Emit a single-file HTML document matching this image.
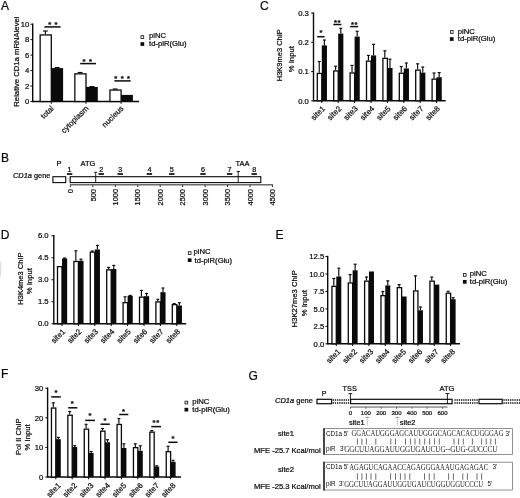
<!DOCTYPE html>
<html lang="en"><head><meta charset="utf-8"><title>Figure</title>
<style>
html,body{margin:0;padding:0;background:#fff;}
body{width:520px;height:498px;overflow:hidden;}
svg{display:block;filter:blur(0.35px);font-family:"Liberation Sans",Arial,sans-serif;}
svg text{stroke:#0a0a0a;stroke-width:0.22px;}
</style></head><body>
<svg width="520" height="498" viewBox="0 0 520 498">
<rect x="0" y="0" width="520" height="498" fill="#ffffff"/>
<text x="0.90" y="9.70" font-size="12.0" text-anchor="start" fill="#0a0a0a">A</text>
<text x="0.90" y="161.80" font-size="12.0" text-anchor="start" fill="#0a0a0a">B</text>
<text x="260.00" y="10.10" font-size="12.0" text-anchor="start" fill="#0a0a0a">C</text>
<text x="0.80" y="238.60" font-size="12.0" text-anchor="start" fill="#0a0a0a">D</text>
<text x="275.40" y="238.80" font-size="12.0" text-anchor="start" fill="#0a0a0a">E</text>
<text x="0.90" y="378.30" font-size="12.0" text-anchor="start" fill="#0a0a0a">F</text>
<text x="248.40" y="380.20" font-size="12.0" text-anchor="start" fill="#0a0a0a">G</text>
<line x1="32.70" y1="23.50" x2="32.70" y2="102.20" stroke="#0a0a0a" stroke-width="1.4"/>
<line x1="30.40" y1="101.50" x2="32.70" y2="101.50" stroke="#0a0a0a" stroke-width="1.0"/>
<text x="29.30" y="104.20" font-size="7.7" text-anchor="end" fill="#0a0a0a">0</text>
<line x1="30.40" y1="86.04" x2="32.70" y2="86.04" stroke="#0a0a0a" stroke-width="1.0"/>
<text x="29.30" y="88.74" font-size="7.7" text-anchor="end" fill="#0a0a0a">2</text>
<line x1="30.40" y1="70.58" x2="32.70" y2="70.58" stroke="#0a0a0a" stroke-width="1.0"/>
<text x="29.30" y="73.28" font-size="7.7" text-anchor="end" fill="#0a0a0a">4</text>
<line x1="30.40" y1="55.12" x2="32.70" y2="55.12" stroke="#0a0a0a" stroke-width="1.0"/>
<text x="29.30" y="57.82" font-size="7.7" text-anchor="end" fill="#0a0a0a">6</text>
<line x1="30.40" y1="39.66" x2="32.70" y2="39.66" stroke="#0a0a0a" stroke-width="1.0"/>
<text x="29.30" y="42.36" font-size="7.7" text-anchor="end" fill="#0a0a0a">8</text>
<line x1="30.40" y1="24.20" x2="32.70" y2="24.20" stroke="#0a0a0a" stroke-width="1.0"/>
<text x="29.30" y="26.90" font-size="7.7" text-anchor="end" fill="#0a0a0a">10</text>
<line x1="32.70" y1="101.50" x2="139.20" y2="101.50" stroke="#0a0a0a" stroke-width="1.4"/>
<line x1="51.30" y1="101.50" x2="51.30" y2="103.80" stroke="#0a0a0a" stroke-width="1.0"/>
<line x1="86.00" y1="101.50" x2="86.00" y2="103.80" stroke="#0a0a0a" stroke-width="1.0"/>
<line x1="121.10" y1="101.50" x2="121.10" y2="103.80" stroke="#0a0a0a" stroke-width="1.0"/>
<line x1="45.40" y1="31.00" x2="45.40" y2="34.30" stroke="#0a0a0a" stroke-width="1.15"/>
<line x1="43.00" y1="31.00" x2="47.80" y2="31.00" stroke="#0a0a0a" stroke-width="1.15"/>
<line x1="57.20" y1="67.60" x2="57.20" y2="68.10" stroke="#0a0a0a" stroke-width="1.15"/>
<line x1="54.80" y1="67.60" x2="59.60" y2="67.60" stroke="#0a0a0a" stroke-width="1.15"/>
<rect x="40.15" y="34.95" width="11.15" height="66.55" fill="#fff" stroke="#0a0a0a" stroke-width="1.3"/>
<rect x="51.30" y="68.10" width="11.80" height="33.40" fill="#0a0a0a"/>
<line x1="80.10" y1="72.50" x2="80.10" y2="73.20" stroke="#0a0a0a" stroke-width="1.15"/>
<line x1="77.70" y1="72.50" x2="82.50" y2="72.50" stroke="#0a0a0a" stroke-width="1.15"/>
<line x1="91.90" y1="86.60" x2="91.90" y2="86.90" stroke="#0a0a0a" stroke-width="1.15"/>
<line x1="89.50" y1="86.60" x2="94.30" y2="86.60" stroke="#0a0a0a" stroke-width="1.15"/>
<rect x="74.85" y="73.85" width="11.15" height="27.65" fill="#fff" stroke="#0a0a0a" stroke-width="1.3"/>
<rect x="86.00" y="86.90" width="11.80" height="14.60" fill="#0a0a0a"/>
<line x1="115.20" y1="89.00" x2="115.20" y2="89.40" stroke="#0a0a0a" stroke-width="1.15"/>
<line x1="112.80" y1="89.00" x2="117.60" y2="89.00" stroke="#0a0a0a" stroke-width="1.15"/>
<rect x="109.95" y="90.05" width="11.15" height="11.45" fill="#fff" stroke="#0a0a0a" stroke-width="1.3"/>
<rect x="121.10" y="94.90" width="11.80" height="6.60" fill="#0a0a0a"/>
<text x="54.30" y="108.90" font-size="7.8" text-anchor="end" fill="#0a0a0a" transform="rotate(-45 54.30 108.90)">total</text>
<text x="89.00" y="108.90" font-size="7.8" text-anchor="end" fill="#0a0a0a" transform="rotate(-45 89.00 108.90)">cytoplasm</text>
<text x="124.10" y="108.90" font-size="7.8" text-anchor="end" fill="#0a0a0a" transform="rotate(-45 124.10 108.90)">nucleus</text>
<text x="19.00" y="61.60" font-size="7.7" text-anchor="middle" fill="#0a0a0a" transform="rotate(-90 19.00 61.60)">Relative CD1a mRNA<tspan dx="-1.7"> level</tspan></text>
<line x1="44.40" y1="26.90" x2="60.60" y2="26.90" stroke="#0a0a0a" stroke-width="1.5"/>
<text x="49.70" y="26.55" font-size="7.6" text-anchor="middle" fill="#0a0a0a" font-weight="bold">*</text>
<text x="56.10" y="26.55" font-size="7.6" text-anchor="middle" fill="#0a0a0a" font-weight="bold">*</text>
<line x1="80.20" y1="63.60" x2="96.00" y2="63.60" stroke="#0a0a0a" stroke-width="1.5"/>
<text x="84.10" y="63.95" font-size="7.6" text-anchor="middle" fill="#0a0a0a" font-weight="bold">*</text>
<text x="90.60" y="63.95" font-size="7.6" text-anchor="middle" fill="#0a0a0a" font-weight="bold">*</text>
<line x1="114.40" y1="80.90" x2="130.60" y2="80.90" stroke="#0a0a0a" stroke-width="1.5"/>
<text x="115.80" y="81.35" font-size="7.6" text-anchor="middle" fill="#0a0a0a" font-weight="bold">*</text>
<text x="122.20" y="81.35" font-size="7.6" text-anchor="middle" fill="#0a0a0a" font-weight="bold">*</text>
<text x="128.60" y="81.35" font-size="7.6" text-anchor="middle" fill="#0a0a0a" font-weight="bold">*</text>
<rect x="141.00" y="35.70" width="2.70" height="2.70" fill="#fff" stroke="#0a0a0a" stroke-width="0.8"/>
<rect x="140.50" y="42.20" width="3.70" height="3.70" fill="#0a0a0a"/>
<text x="149.00" y="38.40" font-size="7.7" text-anchor="start" fill="#0a0a0a">piNC</text>
<text x="149.00" y="46.10" font-size="7.7" text-anchor="start" fill="#0a0a0a">td-piR(Glu)</text>
<line x1="313.50" y1="12.38" x2="313.50" y2="101.50" stroke="#0a0a0a" stroke-width="1.4"/>
<line x1="311.20" y1="100.80" x2="313.50" y2="100.80" stroke="#0a0a0a" stroke-width="1.0"/>
<text x="308.90" y="103.50" font-size="7.7" text-anchor="end" fill="#0a0a0a">0.0</text>
<line x1="311.20" y1="71.56" x2="313.50" y2="71.56" stroke="#0a0a0a" stroke-width="1.0"/>
<text x="308.90" y="74.26" font-size="7.7" text-anchor="end" fill="#0a0a0a">0.1</text>
<line x1="311.20" y1="42.32" x2="313.50" y2="42.32" stroke="#0a0a0a" stroke-width="1.0"/>
<text x="308.90" y="45.02" font-size="7.7" text-anchor="end" fill="#0a0a0a">0.2</text>
<line x1="311.20" y1="13.08" x2="313.50" y2="13.08" stroke="#0a0a0a" stroke-width="1.0"/>
<text x="308.90" y="15.78" font-size="7.7" text-anchor="end" fill="#0a0a0a">0.3</text>
<line x1="313.50" y1="100.80" x2="445.70" y2="100.80" stroke="#0a0a0a" stroke-width="1.4"/>
<line x1="321.80" y1="100.80" x2="321.80" y2="103.10" stroke="#0a0a0a" stroke-width="1.0"/>
<line x1="338.20" y1="100.80" x2="338.20" y2="103.10" stroke="#0a0a0a" stroke-width="1.0"/>
<line x1="354.60" y1="100.80" x2="354.60" y2="103.10" stroke="#0a0a0a" stroke-width="1.0"/>
<line x1="371.00" y1="100.80" x2="371.00" y2="103.10" stroke="#0a0a0a" stroke-width="1.0"/>
<line x1="387.40" y1="100.80" x2="387.40" y2="103.10" stroke="#0a0a0a" stroke-width="1.0"/>
<line x1="403.80" y1="100.80" x2="403.80" y2="103.10" stroke="#0a0a0a" stroke-width="1.0"/>
<line x1="420.20" y1="100.80" x2="420.20" y2="103.10" stroke="#0a0a0a" stroke-width="1.0"/>
<line x1="436.60" y1="100.80" x2="436.60" y2="103.10" stroke="#0a0a0a" stroke-width="1.0"/>
<line x1="319.23" y1="61.50" x2="319.23" y2="72.80" stroke="#0a0a0a" stroke-width="1.15"/>
<line x1="317.73" y1="61.50" x2="320.73" y2="61.50" stroke="#0a0a0a" stroke-width="1.15"/>
<line x1="324.38" y1="40.00" x2="324.38" y2="45.40" stroke="#0a0a0a" stroke-width="1.15"/>
<line x1="322.88" y1="40.00" x2="325.88" y2="40.00" stroke="#0a0a0a" stroke-width="1.15"/>
<rect x="317.30" y="73.45" width="4.50" height="27.35" fill="#fff" stroke="#0a0a0a" stroke-width="1.3"/>
<rect x="321.80" y="45.40" width="5.15" height="55.40" fill="#0a0a0a"/>
<line x1="335.62" y1="66.20" x2="335.62" y2="70.30" stroke="#0a0a0a" stroke-width="1.15"/>
<line x1="334.12" y1="66.20" x2="337.12" y2="66.20" stroke="#0a0a0a" stroke-width="1.15"/>
<line x1="340.77" y1="28.30" x2="340.77" y2="33.60" stroke="#0a0a0a" stroke-width="1.15"/>
<line x1="339.27" y1="28.30" x2="342.27" y2="28.30" stroke="#0a0a0a" stroke-width="1.15"/>
<rect x="333.70" y="70.95" width="4.50" height="29.85" fill="#fff" stroke="#0a0a0a" stroke-width="1.3"/>
<rect x="338.20" y="33.60" width="5.15" height="67.20" fill="#0a0a0a"/>
<line x1="352.03" y1="65.40" x2="352.03" y2="72.30" stroke="#0a0a0a" stroke-width="1.15"/>
<line x1="350.53" y1="65.40" x2="353.53" y2="65.40" stroke="#0a0a0a" stroke-width="1.15"/>
<line x1="357.18" y1="31.30" x2="357.18" y2="36.60" stroke="#0a0a0a" stroke-width="1.15"/>
<line x1="355.68" y1="31.30" x2="358.68" y2="31.30" stroke="#0a0a0a" stroke-width="1.15"/>
<rect x="350.10" y="72.95" width="4.50" height="27.85" fill="#fff" stroke="#0a0a0a" stroke-width="1.3"/>
<rect x="354.60" y="36.60" width="5.15" height="64.20" fill="#0a0a0a"/>
<line x1="368.43" y1="55.40" x2="368.43" y2="60.50" stroke="#0a0a0a" stroke-width="1.15"/>
<line x1="366.93" y1="55.40" x2="369.93" y2="55.40" stroke="#0a0a0a" stroke-width="1.15"/>
<line x1="373.57" y1="44.30" x2="373.57" y2="55.40" stroke="#0a0a0a" stroke-width="1.15"/>
<line x1="372.07" y1="44.30" x2="375.07" y2="44.30" stroke="#0a0a0a" stroke-width="1.15"/>
<rect x="366.50" y="61.15" width="4.50" height="39.65" fill="#fff" stroke="#0a0a0a" stroke-width="1.3"/>
<rect x="371.00" y="55.40" width="5.15" height="45.40" fill="#0a0a0a"/>
<line x1="384.82" y1="50.80" x2="384.82" y2="57.70" stroke="#0a0a0a" stroke-width="1.15"/>
<line x1="383.32" y1="50.80" x2="386.32" y2="50.80" stroke="#0a0a0a" stroke-width="1.15"/>
<line x1="389.97" y1="59.20" x2="389.97" y2="68.00" stroke="#0a0a0a" stroke-width="1.15"/>
<line x1="388.47" y1="59.20" x2="391.47" y2="59.20" stroke="#0a0a0a" stroke-width="1.15"/>
<rect x="382.90" y="58.35" width="4.50" height="42.45" fill="#fff" stroke="#0a0a0a" stroke-width="1.3"/>
<rect x="387.40" y="68.00" width="5.15" height="32.80" fill="#0a0a0a"/>
<line x1="401.23" y1="66.50" x2="401.23" y2="72.60" stroke="#0a0a0a" stroke-width="1.15"/>
<line x1="399.73" y1="66.50" x2="402.73" y2="66.50" stroke="#0a0a0a" stroke-width="1.15"/>
<line x1="406.38" y1="63.00" x2="406.38" y2="68.50" stroke="#0a0a0a" stroke-width="1.15"/>
<line x1="404.88" y1="63.00" x2="407.88" y2="63.00" stroke="#0a0a0a" stroke-width="1.15"/>
<rect x="399.30" y="73.25" width="4.50" height="27.55" fill="#fff" stroke="#0a0a0a" stroke-width="1.3"/>
<rect x="403.80" y="68.50" width="5.15" height="32.30" fill="#0a0a0a"/>
<line x1="417.62" y1="63.80" x2="417.62" y2="69.50" stroke="#0a0a0a" stroke-width="1.15"/>
<line x1="416.12" y1="63.80" x2="419.12" y2="63.80" stroke="#0a0a0a" stroke-width="1.15"/>
<line x1="422.77" y1="67.00" x2="422.77" y2="72.60" stroke="#0a0a0a" stroke-width="1.15"/>
<line x1="421.27" y1="67.00" x2="424.27" y2="67.00" stroke="#0a0a0a" stroke-width="1.15"/>
<rect x="415.70" y="70.15" width="4.50" height="30.65" fill="#fff" stroke="#0a0a0a" stroke-width="1.3"/>
<rect x="420.20" y="72.60" width="5.15" height="28.20" fill="#0a0a0a"/>
<line x1="434.03" y1="73.00" x2="434.03" y2="78.50" stroke="#0a0a0a" stroke-width="1.15"/>
<line x1="432.53" y1="73.00" x2="435.53" y2="73.00" stroke="#0a0a0a" stroke-width="1.15"/>
<line x1="439.18" y1="72.60" x2="439.18" y2="77.20" stroke="#0a0a0a" stroke-width="1.15"/>
<line x1="437.68" y1="72.60" x2="440.68" y2="72.60" stroke="#0a0a0a" stroke-width="1.15"/>
<rect x="432.10" y="79.15" width="4.50" height="21.65" fill="#fff" stroke="#0a0a0a" stroke-width="1.3"/>
<rect x="436.60" y="77.20" width="5.15" height="23.60" fill="#0a0a0a"/>
<text x="325.60" y="109.20" font-size="7.8" text-anchor="end" fill="#0a0a0a" transform="rotate(-45 325.60 109.20)">site1</text>
<text x="342.00" y="109.20" font-size="7.8" text-anchor="end" fill="#0a0a0a" transform="rotate(-45 342.00 109.20)">site2</text>
<text x="358.40" y="109.20" font-size="7.8" text-anchor="end" fill="#0a0a0a" transform="rotate(-45 358.40 109.20)">site3</text>
<text x="374.80" y="109.20" font-size="7.8" text-anchor="end" fill="#0a0a0a" transform="rotate(-45 374.80 109.20)">site4</text>
<text x="391.20" y="109.20" font-size="7.8" text-anchor="end" fill="#0a0a0a" transform="rotate(-45 391.20 109.20)">site5</text>
<text x="407.60" y="109.20" font-size="7.8" text-anchor="end" fill="#0a0a0a" transform="rotate(-45 407.60 109.20)">site6</text>
<text x="424.00" y="109.20" font-size="7.8" text-anchor="end" fill="#0a0a0a" transform="rotate(-45 424.00 109.20)">site7</text>
<text x="440.40" y="109.20" font-size="7.8" text-anchor="end" fill="#0a0a0a" transform="rotate(-45 440.40 109.20)">site8</text>
<text x="282.20" y="55.20" font-size="7.5" text-anchor="middle" fill="#0a0a0a" transform="rotate(-90 282.20 55.20)">H3K9me3 ChIP</text>
<text x="294.20" y="59.20" font-size="7.7" text-anchor="middle" fill="#0a0a0a" transform="rotate(-90 294.20 59.20)">% Input</text>
<line x1="317.20" y1="36.70" x2="324.60" y2="36.70" stroke="#0a0a0a" stroke-width="1.5"/>
<text x="321.00" y="35.45" font-size="7.6" text-anchor="middle" fill="#0a0a0a" font-weight="bold">*</text>
<line x1="333.30" y1="24.50" x2="341.30" y2="24.50" stroke="#0a0a0a" stroke-width="1.5"/>
<text x="335.60" y="24.95" font-size="7.6" text-anchor="middle" fill="#0a0a0a" font-weight="bold">*</text>
<text x="338.90" y="24.95" font-size="7.6" text-anchor="middle" fill="#0a0a0a" font-weight="bold">*</text>
<line x1="350.20" y1="26.60" x2="358.00" y2="26.60" stroke="#0a0a0a" stroke-width="1.5"/>
<text x="352.60" y="27.05" font-size="7.6" text-anchor="middle" fill="#0a0a0a" font-weight="bold">*</text>
<text x="355.90" y="27.05" font-size="7.6" text-anchor="middle" fill="#0a0a0a" font-weight="bold">*</text>
<rect x="450.40" y="30.60" width="2.70" height="2.70" fill="#fff" stroke="#0a0a0a" stroke-width="0.8"/>
<rect x="449.90" y="37.20" width="3.70" height="3.70" fill="#0a0a0a"/>
<text x="457.80" y="33.70" font-size="7.7" text-anchor="start" fill="#0a0a0a">piNC</text>
<text x="457.80" y="41.30" font-size="7.7" text-anchor="start" fill="#0a0a0a">td-piR(Glu)</text>
<line x1="53.80" y1="235.05" x2="53.80" y2="324.45" stroke="#0a0a0a" stroke-width="1.4"/>
<line x1="51.50" y1="323.75" x2="53.80" y2="323.75" stroke="#0a0a0a" stroke-width="1.0"/>
<text x="48.60" y="326.45" font-size="7.7" text-anchor="end" fill="#0a0a0a">0.0</text>
<line x1="51.50" y1="301.75" x2="53.80" y2="301.75" stroke="#0a0a0a" stroke-width="1.0"/>
<text x="48.60" y="304.45" font-size="7.7" text-anchor="end" fill="#0a0a0a">1.5</text>
<line x1="51.50" y1="279.75" x2="53.80" y2="279.75" stroke="#0a0a0a" stroke-width="1.0"/>
<text x="48.60" y="282.45" font-size="7.7" text-anchor="end" fill="#0a0a0a">3.0</text>
<line x1="51.50" y1="257.75" x2="53.80" y2="257.75" stroke="#0a0a0a" stroke-width="1.0"/>
<text x="48.60" y="260.45" font-size="7.7" text-anchor="end" fill="#0a0a0a">4.5</text>
<line x1="51.50" y1="235.75" x2="53.80" y2="235.75" stroke="#0a0a0a" stroke-width="1.0"/>
<text x="48.60" y="238.45" font-size="7.7" text-anchor="end" fill="#0a0a0a">6.0</text>
<line x1="53.80" y1="323.75" x2="186.20" y2="323.75" stroke="#0a0a0a" stroke-width="1.4"/>
<line x1="62.00" y1="323.75" x2="62.00" y2="326.05" stroke="#0a0a0a" stroke-width="1.0"/>
<line x1="78.40" y1="323.75" x2="78.40" y2="326.05" stroke="#0a0a0a" stroke-width="1.0"/>
<line x1="94.80" y1="323.75" x2="94.80" y2="326.05" stroke="#0a0a0a" stroke-width="1.0"/>
<line x1="111.20" y1="323.75" x2="111.20" y2="326.05" stroke="#0a0a0a" stroke-width="1.0"/>
<line x1="127.60" y1="323.75" x2="127.60" y2="326.05" stroke="#0a0a0a" stroke-width="1.0"/>
<line x1="144.00" y1="323.75" x2="144.00" y2="326.05" stroke="#0a0a0a" stroke-width="1.0"/>
<line x1="160.40" y1="323.75" x2="160.40" y2="326.05" stroke="#0a0a0a" stroke-width="1.0"/>
<line x1="176.80" y1="323.75" x2="176.80" y2="326.05" stroke="#0a0a0a" stroke-width="1.0"/>
<line x1="64.58" y1="258.00" x2="64.58" y2="258.50" stroke="#0a0a0a" stroke-width="1.15"/>
<line x1="63.08" y1="258.00" x2="66.08" y2="258.00" stroke="#0a0a0a" stroke-width="1.15"/>
<rect x="57.50" y="266.65" width="4.50" height="57.10" fill="#fff" stroke="#0a0a0a" stroke-width="1.3"/>
<rect x="62.00" y="258.50" width="5.15" height="65.25" fill="#0a0a0a"/>
<line x1="75.83" y1="250.80" x2="75.83" y2="260.80" stroke="#0a0a0a" stroke-width="1.15"/>
<line x1="74.33" y1="250.80" x2="77.33" y2="250.80" stroke="#0a0a0a" stroke-width="1.15"/>
<line x1="80.98" y1="259.20" x2="80.98" y2="260.80" stroke="#0a0a0a" stroke-width="1.15"/>
<line x1="79.48" y1="259.20" x2="82.48" y2="259.20" stroke="#0a0a0a" stroke-width="1.15"/>
<rect x="73.90" y="261.45" width="4.50" height="62.30" fill="#fff" stroke="#0a0a0a" stroke-width="1.3"/>
<rect x="78.40" y="260.80" width="5.15" height="62.95" fill="#0a0a0a"/>
<line x1="92.22" y1="251.00" x2="92.22" y2="251.50" stroke="#0a0a0a" stroke-width="1.15"/>
<line x1="90.72" y1="251.00" x2="93.72" y2="251.00" stroke="#0a0a0a" stroke-width="1.15"/>
<line x1="97.38" y1="245.40" x2="97.38" y2="249.50" stroke="#0a0a0a" stroke-width="1.15"/>
<line x1="95.88" y1="245.40" x2="98.88" y2="245.40" stroke="#0a0a0a" stroke-width="1.15"/>
<rect x="90.30" y="252.15" width="4.50" height="71.60" fill="#fff" stroke="#0a0a0a" stroke-width="1.3"/>
<rect x="94.80" y="249.50" width="5.15" height="74.25" fill="#0a0a0a"/>
<line x1="108.62" y1="267.40" x2="108.62" y2="269.20" stroke="#0a0a0a" stroke-width="1.15"/>
<line x1="107.12" y1="267.40" x2="110.12" y2="267.40" stroke="#0a0a0a" stroke-width="1.15"/>
<line x1="113.77" y1="265.40" x2="113.77" y2="269.00" stroke="#0a0a0a" stroke-width="1.15"/>
<line x1="112.27" y1="265.40" x2="115.27" y2="265.40" stroke="#0a0a0a" stroke-width="1.15"/>
<rect x="106.70" y="269.85" width="4.50" height="53.90" fill="#fff" stroke="#0a0a0a" stroke-width="1.3"/>
<rect x="111.20" y="269.00" width="5.15" height="54.75" fill="#0a0a0a"/>
<line x1="125.02" y1="296.80" x2="125.02" y2="302.00" stroke="#0a0a0a" stroke-width="1.15"/>
<line x1="123.52" y1="296.80" x2="126.52" y2="296.80" stroke="#0a0a0a" stroke-width="1.15"/>
<line x1="130.17" y1="295.40" x2="130.17" y2="295.80" stroke="#0a0a0a" stroke-width="1.15"/>
<line x1="128.67" y1="295.40" x2="131.67" y2="295.40" stroke="#0a0a0a" stroke-width="1.15"/>
<rect x="123.10" y="302.65" width="4.50" height="21.10" fill="#fff" stroke="#0a0a0a" stroke-width="1.3"/>
<rect x="127.60" y="295.80" width="5.15" height="27.95" fill="#0a0a0a"/>
<line x1="141.43" y1="290.40" x2="141.43" y2="296.50" stroke="#0a0a0a" stroke-width="1.15"/>
<line x1="139.93" y1="290.40" x2="142.93" y2="290.40" stroke="#0a0a0a" stroke-width="1.15"/>
<line x1="146.57" y1="293.50" x2="146.57" y2="296.20" stroke="#0a0a0a" stroke-width="1.15"/>
<line x1="145.07" y1="293.50" x2="148.07" y2="293.50" stroke="#0a0a0a" stroke-width="1.15"/>
<rect x="139.50" y="297.15" width="4.50" height="26.60" fill="#fff" stroke="#0a0a0a" stroke-width="1.3"/>
<rect x="144.00" y="296.20" width="5.15" height="27.55" fill="#0a0a0a"/>
<line x1="157.82" y1="299.30" x2="157.82" y2="301.20" stroke="#0a0a0a" stroke-width="1.15"/>
<line x1="156.32" y1="299.30" x2="159.32" y2="299.30" stroke="#0a0a0a" stroke-width="1.15"/>
<line x1="162.97" y1="288.00" x2="162.97" y2="292.20" stroke="#0a0a0a" stroke-width="1.15"/>
<line x1="161.47" y1="288.00" x2="164.47" y2="288.00" stroke="#0a0a0a" stroke-width="1.15"/>
<rect x="155.90" y="301.85" width="4.50" height="21.90" fill="#fff" stroke="#0a0a0a" stroke-width="1.3"/>
<rect x="160.40" y="292.20" width="5.15" height="31.55" fill="#0a0a0a"/>
<line x1="174.22" y1="303.60" x2="174.22" y2="304.00" stroke="#0a0a0a" stroke-width="1.15"/>
<line x1="172.72" y1="303.60" x2="175.72" y2="303.60" stroke="#0a0a0a" stroke-width="1.15"/>
<line x1="179.37" y1="302.70" x2="179.37" y2="305.50" stroke="#0a0a0a" stroke-width="1.15"/>
<line x1="177.87" y1="302.70" x2="180.87" y2="302.70" stroke="#0a0a0a" stroke-width="1.15"/>
<rect x="172.30" y="304.65" width="4.50" height="19.10" fill="#fff" stroke="#0a0a0a" stroke-width="1.3"/>
<rect x="176.80" y="305.50" width="5.15" height="18.25" fill="#0a0a0a"/>
<text x="65.80" y="332.15" font-size="7.8" text-anchor="end" fill="#0a0a0a" transform="rotate(-45 65.80 332.15)">site1</text>
<text x="82.20" y="332.15" font-size="7.8" text-anchor="end" fill="#0a0a0a" transform="rotate(-45 82.20 332.15)">site2</text>
<text x="98.60" y="332.15" font-size="7.8" text-anchor="end" fill="#0a0a0a" transform="rotate(-45 98.60 332.15)">site3</text>
<text x="115.00" y="332.15" font-size="7.8" text-anchor="end" fill="#0a0a0a" transform="rotate(-45 115.00 332.15)">site4</text>
<text x="131.40" y="332.15" font-size="7.8" text-anchor="end" fill="#0a0a0a" transform="rotate(-45 131.40 332.15)">site5</text>
<text x="147.80" y="332.15" font-size="7.8" text-anchor="end" fill="#0a0a0a" transform="rotate(-45 147.80 332.15)">site6</text>
<text x="164.20" y="332.15" font-size="7.8" text-anchor="end" fill="#0a0a0a" transform="rotate(-45 164.20 332.15)">site7</text>
<text x="180.60" y="332.15" font-size="7.8" text-anchor="end" fill="#0a0a0a" transform="rotate(-45 180.60 332.15)">site8</text>
<text x="23.00" y="278.60" font-size="7.5" text-anchor="middle" fill="#0a0a0a" transform="rotate(-90 23.00 278.60)">H3K4me3 ChIP</text>
<text x="32.00" y="281.20" font-size="7.7" text-anchor="middle" fill="#0a0a0a" transform="rotate(-90 32.00 281.20)">% Input</text>
<rect x="188.30" y="251.70" width="2.70" height="2.70" fill="#fff" stroke="#0a0a0a" stroke-width="0.8"/>
<rect x="187.80" y="258.30" width="3.70" height="3.70" fill="#0a0a0a"/>
<text x="193.50" y="253.70" font-size="7.7" text-anchor="start" fill="#0a0a0a">piNC</text>
<text x="194.60" y="262.60" font-size="7.7" text-anchor="start" fill="#0a0a0a">td-piR(Glu)</text>
<path d="M0 261 Q1.8 269 0 277" fill="none" stroke="#d8d8d8" stroke-width="1.0"/>
<line x1="327.70" y1="255.85" x2="327.70" y2="344.50" stroke="#0a0a0a" stroke-width="1.4"/>
<line x1="325.40" y1="343.80" x2="327.70" y2="343.80" stroke="#0a0a0a" stroke-width="1.0"/>
<text x="324.30" y="346.50" font-size="7.7" text-anchor="end" fill="#0a0a0a">0.0</text>
<line x1="325.40" y1="326.35" x2="327.70" y2="326.35" stroke="#0a0a0a" stroke-width="1.0"/>
<text x="324.30" y="329.05" font-size="7.7" text-anchor="end" fill="#0a0a0a">2.5</text>
<line x1="325.40" y1="308.90" x2="327.70" y2="308.90" stroke="#0a0a0a" stroke-width="1.0"/>
<text x="324.30" y="311.60" font-size="7.7" text-anchor="end" fill="#0a0a0a">5.0</text>
<line x1="325.40" y1="291.45" x2="327.70" y2="291.45" stroke="#0a0a0a" stroke-width="1.0"/>
<text x="324.30" y="294.15" font-size="7.7" text-anchor="end" fill="#0a0a0a">7.5</text>
<line x1="325.40" y1="274.00" x2="327.70" y2="274.00" stroke="#0a0a0a" stroke-width="1.0"/>
<text x="324.30" y="276.70" font-size="7.7" text-anchor="end" fill="#0a0a0a">10.0</text>
<line x1="325.40" y1="256.55" x2="327.70" y2="256.55" stroke="#0a0a0a" stroke-width="1.0"/>
<text x="324.30" y="259.25" font-size="7.7" text-anchor="end" fill="#0a0a0a">12.5</text>
<line x1="327.70" y1="343.80" x2="460.00" y2="343.80" stroke="#0a0a0a" stroke-width="1.4"/>
<line x1="336.30" y1="343.80" x2="336.30" y2="346.10" stroke="#0a0a0a" stroke-width="1.0"/>
<line x1="352.63" y1="343.80" x2="352.63" y2="346.10" stroke="#0a0a0a" stroke-width="1.0"/>
<line x1="368.96" y1="343.80" x2="368.96" y2="346.10" stroke="#0a0a0a" stroke-width="1.0"/>
<line x1="385.29" y1="343.80" x2="385.29" y2="346.10" stroke="#0a0a0a" stroke-width="1.0"/>
<line x1="401.62" y1="343.80" x2="401.62" y2="346.10" stroke="#0a0a0a" stroke-width="1.0"/>
<line x1="417.95" y1="343.80" x2="417.95" y2="346.10" stroke="#0a0a0a" stroke-width="1.0"/>
<line x1="434.28" y1="343.80" x2="434.28" y2="346.10" stroke="#0a0a0a" stroke-width="1.0"/>
<line x1="450.61" y1="343.80" x2="450.61" y2="346.10" stroke="#0a0a0a" stroke-width="1.0"/>
<line x1="333.80" y1="278.50" x2="333.80" y2="285.70" stroke="#0a0a0a" stroke-width="1.15"/>
<line x1="332.30" y1="278.50" x2="335.30" y2="278.50" stroke="#0a0a0a" stroke-width="1.15"/>
<line x1="338.80" y1="268.20" x2="338.80" y2="276.50" stroke="#0a0a0a" stroke-width="1.15"/>
<line x1="337.30" y1="268.20" x2="340.30" y2="268.20" stroke="#0a0a0a" stroke-width="1.15"/>
<rect x="331.95" y="286.35" width="4.35" height="57.45" fill="#fff" stroke="#0a0a0a" stroke-width="1.3"/>
<rect x="336.30" y="276.50" width="5.00" height="67.30" fill="#0a0a0a"/>
<line x1="350.13" y1="274.60" x2="350.13" y2="282.30" stroke="#0a0a0a" stroke-width="1.15"/>
<line x1="348.63" y1="274.60" x2="351.63" y2="274.60" stroke="#0a0a0a" stroke-width="1.15"/>
<line x1="355.13" y1="264.20" x2="355.13" y2="270.30" stroke="#0a0a0a" stroke-width="1.15"/>
<line x1="353.63" y1="264.20" x2="356.63" y2="264.20" stroke="#0a0a0a" stroke-width="1.15"/>
<rect x="348.28" y="282.95" width="4.35" height="60.85" fill="#fff" stroke="#0a0a0a" stroke-width="1.3"/>
<rect x="352.63" y="270.30" width="5.00" height="73.50" fill="#0a0a0a"/>
<line x1="366.46" y1="277.00" x2="366.46" y2="280.50" stroke="#0a0a0a" stroke-width="1.15"/>
<line x1="364.96" y1="277.00" x2="367.96" y2="277.00" stroke="#0a0a0a" stroke-width="1.15"/>
<rect x="364.61" y="281.15" width="4.35" height="62.65" fill="#fff" stroke="#0a0a0a" stroke-width="1.3"/>
<rect x="368.96" y="271.50" width="5.00" height="72.30" fill="#0a0a0a"/>
<line x1="382.79" y1="291.50" x2="382.79" y2="295.00" stroke="#0a0a0a" stroke-width="1.15"/>
<line x1="381.29" y1="291.50" x2="384.29" y2="291.50" stroke="#0a0a0a" stroke-width="1.15"/>
<line x1="387.79" y1="280.80" x2="387.79" y2="285.40" stroke="#0a0a0a" stroke-width="1.15"/>
<line x1="386.29" y1="280.80" x2="389.29" y2="280.80" stroke="#0a0a0a" stroke-width="1.15"/>
<rect x="380.94" y="295.65" width="4.35" height="48.15" fill="#fff" stroke="#0a0a0a" stroke-width="1.3"/>
<rect x="385.29" y="285.40" width="5.00" height="58.40" fill="#0a0a0a"/>
<line x1="399.12" y1="284.60" x2="399.12" y2="287.00" stroke="#0a0a0a" stroke-width="1.15"/>
<line x1="397.62" y1="284.60" x2="400.62" y2="284.60" stroke="#0a0a0a" stroke-width="1.15"/>
<rect x="397.27" y="287.65" width="4.35" height="56.15" fill="#fff" stroke="#0a0a0a" stroke-width="1.3"/>
<rect x="401.62" y="296.50" width="5.00" height="47.30" fill="#0a0a0a"/>
<line x1="415.45" y1="275.80" x2="415.45" y2="290.30" stroke="#0a0a0a" stroke-width="1.15"/>
<line x1="413.95" y1="275.80" x2="416.95" y2="275.80" stroke="#0a0a0a" stroke-width="1.15"/>
<line x1="420.45" y1="307.00" x2="420.45" y2="310.30" stroke="#0a0a0a" stroke-width="1.15"/>
<line x1="418.95" y1="307.00" x2="421.95" y2="307.00" stroke="#0a0a0a" stroke-width="1.15"/>
<rect x="413.60" y="290.95" width="4.35" height="52.85" fill="#fff" stroke="#0a0a0a" stroke-width="1.3"/>
<rect x="417.95" y="310.30" width="5.00" height="33.50" fill="#0a0a0a"/>
<line x1="431.78" y1="277.00" x2="431.78" y2="280.50" stroke="#0a0a0a" stroke-width="1.15"/>
<line x1="430.28" y1="277.00" x2="433.28" y2="277.00" stroke="#0a0a0a" stroke-width="1.15"/>
<rect x="429.93" y="281.15" width="4.35" height="62.65" fill="#fff" stroke="#0a0a0a" stroke-width="1.3"/>
<rect x="434.28" y="284.60" width="5.00" height="59.20" fill="#0a0a0a"/>
<line x1="448.11" y1="291.30" x2="448.11" y2="292.60" stroke="#0a0a0a" stroke-width="1.15"/>
<line x1="446.61" y1="291.30" x2="449.61" y2="291.30" stroke="#0a0a0a" stroke-width="1.15"/>
<line x1="453.11" y1="297.70" x2="453.11" y2="299.20" stroke="#0a0a0a" stroke-width="1.15"/>
<line x1="451.61" y1="297.70" x2="454.61" y2="297.70" stroke="#0a0a0a" stroke-width="1.15"/>
<rect x="446.26" y="293.25" width="4.35" height="50.55" fill="#fff" stroke="#0a0a0a" stroke-width="1.3"/>
<rect x="450.61" y="299.20" width="5.00" height="44.60" fill="#0a0a0a"/>
<text x="341.20" y="352.20" font-size="7.8" text-anchor="end" fill="#0a0a0a" transform="rotate(-45 341.20 352.20)">site1</text>
<text x="357.53" y="352.20" font-size="7.8" text-anchor="end" fill="#0a0a0a" transform="rotate(-45 357.53 352.20)">site2</text>
<text x="373.86" y="352.20" font-size="7.8" text-anchor="end" fill="#0a0a0a" transform="rotate(-45 373.86 352.20)">site3</text>
<text x="390.19" y="352.20" font-size="7.8" text-anchor="end" fill="#0a0a0a" transform="rotate(-45 390.19 352.20)">site4</text>
<text x="406.52" y="352.20" font-size="7.8" text-anchor="end" fill="#0a0a0a" transform="rotate(-45 406.52 352.20)">site5</text>
<text x="422.85" y="352.20" font-size="7.8" text-anchor="end" fill="#0a0a0a" transform="rotate(-45 422.85 352.20)">site6</text>
<text x="439.18" y="352.20" font-size="7.8" text-anchor="end" fill="#0a0a0a" transform="rotate(-45 439.18 352.20)">site7</text>
<text x="455.51" y="352.20" font-size="7.8" text-anchor="end" fill="#0a0a0a" transform="rotate(-45 455.51 352.20)">site8</text>
<text x="297.30" y="298.70" font-size="7.6" text-anchor="middle" fill="#0a0a0a" transform="rotate(-90 297.30 298.70)">H3K27me3 ChIP</text>
<text x="307.00" y="303.20" font-size="7.7" text-anchor="middle" fill="#0a0a0a" transform="rotate(-90 307.00 303.20)">% Input</text>
<rect x="463.40" y="273.60" width="2.70" height="2.70" fill="#fff" stroke="#0a0a0a" stroke-width="0.8"/>
<rect x="462.90" y="280.00" width="3.70" height="3.70" fill="#0a0a0a"/>
<text x="469.80" y="275.50" font-size="7.7" text-anchor="start" fill="#0a0a0a">piNC</text>
<text x="469.80" y="284.10" font-size="7.7" text-anchor="start" fill="#0a0a0a">td-piR(Glu)</text>
<line x1="47.60" y1="387.50" x2="47.60" y2="477.70" stroke="#0a0a0a" stroke-width="1.4"/>
<line x1="45.30" y1="477.00" x2="47.60" y2="477.00" stroke="#0a0a0a" stroke-width="1.0"/>
<text x="43.40" y="479.70" font-size="7.7" text-anchor="end" fill="#0a0a0a">0</text>
<line x1="45.30" y1="447.40" x2="47.60" y2="447.40" stroke="#0a0a0a" stroke-width="1.0"/>
<text x="43.40" y="450.10" font-size="7.7" text-anchor="end" fill="#0a0a0a">10</text>
<line x1="45.30" y1="417.80" x2="47.60" y2="417.80" stroke="#0a0a0a" stroke-width="1.0"/>
<text x="43.40" y="420.50" font-size="7.7" text-anchor="end" fill="#0a0a0a">20</text>
<line x1="45.30" y1="388.20" x2="47.60" y2="388.20" stroke="#0a0a0a" stroke-width="1.0"/>
<text x="43.40" y="390.90" font-size="7.7" text-anchor="end" fill="#0a0a0a">30</text>
<line x1="47.60" y1="477.00" x2="181.00" y2="477.00" stroke="#0a0a0a" stroke-width="1.4"/>
<line x1="55.80" y1="477.00" x2="55.80" y2="479.30" stroke="#0a0a0a" stroke-width="1.0"/>
<line x1="72.20" y1="477.00" x2="72.20" y2="479.30" stroke="#0a0a0a" stroke-width="1.0"/>
<line x1="88.60" y1="477.00" x2="88.60" y2="479.30" stroke="#0a0a0a" stroke-width="1.0"/>
<line x1="105.00" y1="477.00" x2="105.00" y2="479.30" stroke="#0a0a0a" stroke-width="1.0"/>
<line x1="121.40" y1="477.00" x2="121.40" y2="479.30" stroke="#0a0a0a" stroke-width="1.0"/>
<line x1="137.80" y1="477.00" x2="137.80" y2="479.30" stroke="#0a0a0a" stroke-width="1.0"/>
<line x1="154.20" y1="477.00" x2="154.20" y2="479.30" stroke="#0a0a0a" stroke-width="1.0"/>
<line x1="170.60" y1="477.00" x2="170.60" y2="479.30" stroke="#0a0a0a" stroke-width="1.0"/>
<line x1="53.30" y1="402.80" x2="53.30" y2="407.40" stroke="#0a0a0a" stroke-width="1.15"/>
<line x1="51.80" y1="402.80" x2="54.80" y2="402.80" stroke="#0a0a0a" stroke-width="1.15"/>
<line x1="58.30" y1="437.40" x2="58.30" y2="439.20" stroke="#0a0a0a" stroke-width="1.15"/>
<line x1="56.80" y1="437.40" x2="59.80" y2="437.40" stroke="#0a0a0a" stroke-width="1.15"/>
<rect x="51.45" y="408.05" width="4.35" height="68.95" fill="#fff" stroke="#0a0a0a" stroke-width="1.3"/>
<rect x="55.80" y="439.20" width="5.00" height="37.80" fill="#0a0a0a"/>
<line x1="69.70" y1="411.50" x2="69.70" y2="414.60" stroke="#0a0a0a" stroke-width="1.15"/>
<line x1="68.20" y1="411.50" x2="71.20" y2="411.50" stroke="#0a0a0a" stroke-width="1.15"/>
<line x1="74.70" y1="445.70" x2="74.70" y2="447.00" stroke="#0a0a0a" stroke-width="1.15"/>
<line x1="73.20" y1="445.70" x2="76.20" y2="445.70" stroke="#0a0a0a" stroke-width="1.15"/>
<rect x="67.85" y="415.25" width="4.35" height="61.75" fill="#fff" stroke="#0a0a0a" stroke-width="1.3"/>
<rect x="72.20" y="447.00" width="5.00" height="30.00" fill="#0a0a0a"/>
<line x1="86.10" y1="424.30" x2="86.10" y2="428.50" stroke="#0a0a0a" stroke-width="1.15"/>
<line x1="84.60" y1="424.30" x2="87.60" y2="424.30" stroke="#0a0a0a" stroke-width="1.15"/>
<line x1="91.10" y1="451.50" x2="91.10" y2="453.00" stroke="#0a0a0a" stroke-width="1.15"/>
<line x1="89.60" y1="451.50" x2="92.60" y2="451.50" stroke="#0a0a0a" stroke-width="1.15"/>
<rect x="84.25" y="429.15" width="4.35" height="47.85" fill="#fff" stroke="#0a0a0a" stroke-width="1.3"/>
<rect x="88.60" y="453.00" width="5.00" height="24.00" fill="#0a0a0a"/>
<line x1="102.50" y1="428.50" x2="102.50" y2="430.50" stroke="#0a0a0a" stroke-width="1.15"/>
<line x1="101.00" y1="428.50" x2="104.00" y2="428.50" stroke="#0a0a0a" stroke-width="1.15"/>
<line x1="107.50" y1="439.70" x2="107.50" y2="442.30" stroke="#0a0a0a" stroke-width="1.15"/>
<line x1="106.00" y1="439.70" x2="109.00" y2="439.70" stroke="#0a0a0a" stroke-width="1.15"/>
<rect x="100.65" y="431.15" width="4.35" height="45.85" fill="#fff" stroke="#0a0a0a" stroke-width="1.3"/>
<rect x="105.00" y="442.30" width="5.00" height="34.70" fill="#0a0a0a"/>
<line x1="118.90" y1="418.50" x2="118.90" y2="423.80" stroke="#0a0a0a" stroke-width="1.15"/>
<line x1="117.40" y1="418.50" x2="120.40" y2="418.50" stroke="#0a0a0a" stroke-width="1.15"/>
<line x1="123.90" y1="443.80" x2="123.90" y2="448.00" stroke="#0a0a0a" stroke-width="1.15"/>
<line x1="122.40" y1="443.80" x2="125.40" y2="443.80" stroke="#0a0a0a" stroke-width="1.15"/>
<rect x="117.05" y="424.45" width="4.35" height="52.55" fill="#fff" stroke="#0a0a0a" stroke-width="1.3"/>
<rect x="121.40" y="448.00" width="5.00" height="29.00" fill="#0a0a0a"/>
<line x1="135.30" y1="443.80" x2="135.30" y2="447.00" stroke="#0a0a0a" stroke-width="1.15"/>
<line x1="133.80" y1="443.80" x2="136.80" y2="443.80" stroke="#0a0a0a" stroke-width="1.15"/>
<line x1="140.30" y1="445.80" x2="140.30" y2="450.80" stroke="#0a0a0a" stroke-width="1.15"/>
<line x1="138.80" y1="445.80" x2="141.80" y2="445.80" stroke="#0a0a0a" stroke-width="1.15"/>
<rect x="133.45" y="447.65" width="4.35" height="29.35" fill="#fff" stroke="#0a0a0a" stroke-width="1.3"/>
<rect x="137.80" y="450.80" width="5.00" height="26.20" fill="#0a0a0a"/>
<line x1="151.70" y1="430.60" x2="151.70" y2="431.50" stroke="#0a0a0a" stroke-width="1.15"/>
<line x1="150.20" y1="430.60" x2="153.20" y2="430.60" stroke="#0a0a0a" stroke-width="1.15"/>
<line x1="156.70" y1="465.80" x2="156.70" y2="466.50" stroke="#0a0a0a" stroke-width="1.15"/>
<line x1="155.20" y1="465.80" x2="158.20" y2="465.80" stroke="#0a0a0a" stroke-width="1.15"/>
<rect x="149.85" y="432.15" width="4.35" height="44.85" fill="#fff" stroke="#0a0a0a" stroke-width="1.3"/>
<rect x="154.20" y="466.50" width="5.00" height="10.50" fill="#0a0a0a"/>
<line x1="168.10" y1="446.20" x2="168.10" y2="451.00" stroke="#0a0a0a" stroke-width="1.15"/>
<line x1="166.60" y1="446.20" x2="169.60" y2="446.20" stroke="#0a0a0a" stroke-width="1.15"/>
<line x1="173.10" y1="460.30" x2="173.10" y2="461.80" stroke="#0a0a0a" stroke-width="1.15"/>
<line x1="171.60" y1="460.30" x2="174.60" y2="460.30" stroke="#0a0a0a" stroke-width="1.15"/>
<rect x="166.25" y="451.65" width="4.35" height="25.35" fill="#fff" stroke="#0a0a0a" stroke-width="1.3"/>
<rect x="170.60" y="461.80" width="5.00" height="15.20" fill="#0a0a0a"/>
<text x="61.30" y="486.00" font-size="7.8" text-anchor="end" fill="#0a0a0a" transform="rotate(-45 61.30 486.00)">site1</text>
<text x="77.70" y="486.00" font-size="7.8" text-anchor="end" fill="#0a0a0a" transform="rotate(-45 77.70 486.00)">site2</text>
<text x="94.10" y="486.00" font-size="7.8" text-anchor="end" fill="#0a0a0a" transform="rotate(-45 94.10 486.00)">site3</text>
<text x="110.50" y="486.00" font-size="7.8" text-anchor="end" fill="#0a0a0a" transform="rotate(-45 110.50 486.00)">site4</text>
<text x="126.90" y="486.00" font-size="7.8" text-anchor="end" fill="#0a0a0a" transform="rotate(-45 126.90 486.00)">site5</text>
<text x="143.30" y="486.00" font-size="7.8" text-anchor="end" fill="#0a0a0a" transform="rotate(-45 143.30 486.00)">site6</text>
<text x="159.70" y="486.00" font-size="7.8" text-anchor="end" fill="#0a0a0a" transform="rotate(-45 159.70 486.00)">site7</text>
<text x="176.10" y="486.00" font-size="7.8" text-anchor="end" fill="#0a0a0a" transform="rotate(-45 176.10 486.00)">site8</text>
<text x="21.00" y="436.70" font-size="7.7" text-anchor="middle" fill="#0a0a0a" transform="rotate(-90 21.00 436.70)">Pol II ChIP</text>
<text x="29.60" y="437.40" font-size="7.7" text-anchor="middle" fill="#0a0a0a" transform="rotate(-90 29.60 437.40)">% Input</text>
<line x1="51.20" y1="396.90" x2="60.80" y2="396.90" stroke="#0a0a0a" stroke-width="1.5"/>
<text x="55.90" y="394.95" font-size="7.6" text-anchor="middle" fill="#0a0a0a" font-weight="bold">*</text>
<line x1="68.10" y1="407.80" x2="77.30" y2="407.80" stroke="#0a0a0a" stroke-width="1.5"/>
<text x="72.30" y="406.35" font-size="7.6" text-anchor="middle" fill="#0a0a0a" font-weight="bold">*</text>
<line x1="85.20" y1="420.40" x2="95.00" y2="420.40" stroke="#0a0a0a" stroke-width="1.5"/>
<text x="90.10" y="418.45" font-size="7.6" text-anchor="middle" fill="#0a0a0a" font-weight="bold">*</text>
<line x1="100.50" y1="424.20" x2="109.80" y2="424.20" stroke="#0a0a0a" stroke-width="1.5"/>
<text x="104.90" y="422.75" font-size="7.6" text-anchor="middle" fill="#0a0a0a" font-weight="bold">*</text>
<line x1="119.20" y1="414.50" x2="128.30" y2="414.50" stroke="#0a0a0a" stroke-width="1.5"/>
<text x="123.60" y="414.35" font-size="7.6" text-anchor="middle" fill="#0a0a0a" font-weight="bold">*</text>
<line x1="151.30" y1="426.60" x2="161.00" y2="426.60" stroke="#0a0a0a" stroke-width="1.5"/>
<text x="154.00" y="425.35" font-size="7.6" text-anchor="middle" fill="#0a0a0a" font-weight="bold">*</text>
<text x="157.70" y="425.35" font-size="7.6" text-anchor="middle" fill="#0a0a0a" font-weight="bold">*</text>
<line x1="168.30" y1="442.30" x2="177.50" y2="442.30" stroke="#0a0a0a" stroke-width="1.5"/>
<text x="172.90" y="441.05" font-size="7.6" text-anchor="middle" fill="#0a0a0a" font-weight="bold">*</text>
<rect x="185.00" y="401.20" width="2.70" height="2.70" fill="#fff" stroke="#0a0a0a" stroke-width="0.8"/>
<rect x="184.50" y="407.80" width="3.70" height="3.70" fill="#0a0a0a"/>
<text x="192.30" y="403.70" font-size="7.7" text-anchor="start" fill="#0a0a0a">piNC</text>
<text x="192.30" y="411.90" font-size="7.7" text-anchor="start" fill="#0a0a0a">td-piR(Glu)</text>
<text x="13.00" y="178.00" font-size="7.4" text-anchor="start" fill="#0a0a0a"><tspan font-style="italic">CD1a</tspan> gene</text>
<rect x="52.90" y="176.70" width="12.80" height="5.90" fill="#fff" stroke="#0a0a0a" stroke-width="1.1"/>
<text x="56.40" y="166.00" font-size="7.4" text-anchor="start" fill="#0a0a0a">P</text>
<line x1="65.80" y1="178.60" x2="70.00" y2="178.60" stroke="#999" stroke-width="0.7" stroke-dasharray="1 0.8"/>
<line x1="65.80" y1="180.80" x2="70.00" y2="180.80" stroke="#999" stroke-width="0.7" stroke-dasharray="1 0.8"/>
<rect x="70.20" y="176.70" width="190.60" height="5.90" fill="#fff" stroke="#0a0a0a" stroke-width="1.1"/>
<line x1="70.00" y1="184.80" x2="272.80" y2="184.80" stroke="#6a6a6a" stroke-width="1.6"/>
<line x1="70.40" y1="184.80" x2="70.40" y2="187.20" stroke="#333" stroke-width="1.0"/>
<text x="73.10" y="189.00" font-size="7.4" text-anchor="end" fill="#0a0a0a" transform="rotate(-90 73.10 189.00)">0</text>
<line x1="92.85" y1="184.80" x2="92.85" y2="187.20" stroke="#333" stroke-width="1.0"/>
<text x="95.55" y="189.00" font-size="7.4" text-anchor="end" fill="#0a0a0a" transform="rotate(-90 95.55 189.00)">500</text>
<line x1="115.30" y1="184.80" x2="115.30" y2="187.20" stroke="#333" stroke-width="1.0"/>
<text x="118.00" y="189.00" font-size="7.4" text-anchor="end" fill="#0a0a0a" transform="rotate(-90 118.00 189.00)">1000</text>
<line x1="137.75" y1="184.80" x2="137.75" y2="187.20" stroke="#333" stroke-width="1.0"/>
<text x="140.45" y="189.00" font-size="7.4" text-anchor="end" fill="#0a0a0a" transform="rotate(-90 140.45 189.00)">1500</text>
<line x1="160.20" y1="184.80" x2="160.20" y2="187.20" stroke="#333" stroke-width="1.0"/>
<text x="162.90" y="189.00" font-size="7.4" text-anchor="end" fill="#0a0a0a" transform="rotate(-90 162.90 189.00)">2000</text>
<line x1="182.65" y1="184.80" x2="182.65" y2="187.20" stroke="#333" stroke-width="1.0"/>
<text x="185.35" y="189.00" font-size="7.4" text-anchor="end" fill="#0a0a0a" transform="rotate(-90 185.35 189.00)">2500</text>
<line x1="205.10" y1="184.80" x2="205.10" y2="187.20" stroke="#333" stroke-width="1.0"/>
<text x="207.80" y="189.00" font-size="7.4" text-anchor="end" fill="#0a0a0a" transform="rotate(-90 207.80 189.00)">3000</text>
<line x1="227.55" y1="184.80" x2="227.55" y2="187.20" stroke="#333" stroke-width="1.0"/>
<text x="230.25" y="189.00" font-size="7.4" text-anchor="end" fill="#0a0a0a" transform="rotate(-90 230.25 189.00)">3500</text>
<line x1="250.00" y1="184.80" x2="250.00" y2="187.20" stroke="#333" stroke-width="1.0"/>
<text x="252.70" y="189.00" font-size="7.4" text-anchor="end" fill="#0a0a0a" transform="rotate(-90 252.70 189.00)">4000</text>
<line x1="272.45" y1="184.80" x2="272.45" y2="187.20" stroke="#333" stroke-width="1.0"/>
<text x="275.15" y="189.00" font-size="7.4" text-anchor="end" fill="#0a0a0a" transform="rotate(-90 275.15 189.00)">4500</text>
<text x="80.60" y="166.20" font-size="7.5" text-anchor="start" fill="#0a0a0a">ATG</text>
<line x1="95.70" y1="172.30" x2="95.70" y2="182.60" stroke="#0a0a0a" stroke-width="0.9"/>
<line x1="94.20" y1="172.30" x2="97.20" y2="172.30" stroke="#0a0a0a" stroke-width="0.9"/>
<text x="235.60" y="166.20" font-size="7.5" text-anchor="start" fill="#0a0a0a">TAA</text>
<line x1="238.20" y1="171.50" x2="238.20" y2="182.60" stroke="#0a0a0a" stroke-width="0.9"/>
<line x1="236.60" y1="171.50" x2="240.00" y2="171.50" stroke="#0a0a0a" stroke-width="0.9"/>
<line x1="66.90" y1="174.00" x2="72.30" y2="174.00" stroke="#0a0a0a" stroke-width="1.7"/>
<text x="69.60" y="171.60" font-size="7.2" text-anchor="middle" fill="#0a0a0a">1</text>
<line x1="98.50" y1="174.00" x2="103.90" y2="174.00" stroke="#0a0a0a" stroke-width="1.7"/>
<text x="101.20" y="171.60" font-size="7.2" text-anchor="middle" fill="#0a0a0a">2</text>
<line x1="117.50" y1="174.00" x2="122.90" y2="174.00" stroke="#0a0a0a" stroke-width="1.7"/>
<text x="120.20" y="171.60" font-size="7.2" text-anchor="middle" fill="#0a0a0a">3</text>
<line x1="146.70" y1="174.00" x2="152.10" y2="174.00" stroke="#0a0a0a" stroke-width="1.7"/>
<text x="149.40" y="171.60" font-size="7.2" text-anchor="middle" fill="#0a0a0a">4</text>
<line x1="169.10" y1="174.00" x2="174.50" y2="174.00" stroke="#0a0a0a" stroke-width="1.7"/>
<text x="171.80" y="171.60" font-size="7.2" text-anchor="middle" fill="#0a0a0a">5</text>
<line x1="200.30" y1="174.00" x2="205.70" y2="174.00" stroke="#0a0a0a" stroke-width="1.7"/>
<text x="203.00" y="171.60" font-size="7.2" text-anchor="middle" fill="#0a0a0a">6</text>
<line x1="226.90" y1="174.00" x2="232.30" y2="174.00" stroke="#0a0a0a" stroke-width="1.7"/>
<text x="229.60" y="171.60" font-size="7.2" text-anchor="middle" fill="#0a0a0a">7</text>
<line x1="251.50" y1="174.00" x2="256.90" y2="174.00" stroke="#0a0a0a" stroke-width="1.7"/>
<text x="254.20" y="171.60" font-size="7.2" text-anchor="middle" fill="#0a0a0a">8</text>
<text x="275.00" y="403.40" font-size="7.5" text-anchor="start" fill="#0a0a0a"><tspan font-style="italic">CD1a</tspan> gene</text>
<rect x="317.00" y="399.30" width="14.60" height="4.40" fill="#fff" stroke="#0a0a0a" stroke-width="1.2"/>
<text x="321.80" y="396.00" font-size="7.0" text-anchor="start" fill="#0a0a0a">P</text>
<line x1="332.60" y1="400.00" x2="349.20" y2="400.00" stroke="#0a0a0a" stroke-width="1.45" stroke-dasharray="1.3 0.9"/>
<line x1="454.40" y1="400.00" x2="478.20" y2="400.00" stroke="#0a0a0a" stroke-width="1.45" stroke-dasharray="1.3 0.9"/>
<line x1="503.40" y1="400.00" x2="520.00" y2="400.00" stroke="#0a0a0a" stroke-width="1.45" stroke-dasharray="1.3 0.9"/>
<line x1="332.60" y1="403.00" x2="349.20" y2="403.00" stroke="#0a0a0a" stroke-width="1.45" stroke-dasharray="1.3 0.9"/>
<line x1="454.40" y1="403.00" x2="478.20" y2="403.00" stroke="#0a0a0a" stroke-width="1.45" stroke-dasharray="1.3 0.9"/>
<line x1="503.40" y1="403.00" x2="520.00" y2="403.00" stroke="#0a0a0a" stroke-width="1.45" stroke-dasharray="1.3 0.9"/>
<rect x="350.60" y="399.30" width="101.50" height="4.40" fill="#fff" stroke="#0a0a0a" stroke-width="1.2"/>
<rect x="479.00" y="399.30" width="23.20" height="4.40" fill="#fff" stroke="#0a0a0a" stroke-width="1.2"/>
<text x="342.60" y="391.30" font-size="7.3" text-anchor="start" fill="#0a0a0a">TSS</text>
<line x1="350.40" y1="393.60" x2="350.40" y2="399.00" stroke="#0a0a0a" stroke-width="0.9"/>
<line x1="348.50" y1="393.60" x2="352.30" y2="393.60" stroke="#0a0a0a" stroke-width="0.9"/>
<text x="439.60" y="391.30" font-size="7.5" text-anchor="start" fill="#0a0a0a">ATG</text>
<line x1="447.40" y1="393.60" x2="447.40" y2="403.60" stroke="#0a0a0a" stroke-width="0.9"/>
<line x1="445.40" y1="393.60" x2="449.50" y2="393.60" stroke="#0a0a0a" stroke-width="0.9"/>
<line x1="350.30" y1="407.00" x2="447.60" y2="407.00" stroke="#555" stroke-width="1.0"/>
<line x1="350.50" y1="407.00" x2="350.50" y2="408.80" stroke="#555" stroke-width="0.9"/>
<text x="350.50" y="415.10" font-size="6.0" text-anchor="middle" fill="#0a0a0a">0</text>
<line x1="365.83" y1="407.00" x2="365.83" y2="408.80" stroke="#555" stroke-width="0.9"/>
<text x="365.83" y="415.10" font-size="6.0" text-anchor="middle" fill="#0a0a0a">100</text>
<line x1="381.16" y1="407.00" x2="381.16" y2="408.80" stroke="#555" stroke-width="0.9"/>
<text x="381.16" y="415.10" font-size="6.0" text-anchor="middle" fill="#0a0a0a">200</text>
<line x1="396.49" y1="407.00" x2="396.49" y2="408.80" stroke="#555" stroke-width="0.9"/>
<text x="396.49" y="415.10" font-size="6.0" text-anchor="middle" fill="#0a0a0a">300</text>
<line x1="411.82" y1="407.00" x2="411.82" y2="408.80" stroke="#555" stroke-width="0.9"/>
<text x="411.82" y="415.10" font-size="6.0" text-anchor="middle" fill="#0a0a0a">400</text>
<line x1="427.15" y1="407.00" x2="427.15" y2="408.80" stroke="#555" stroke-width="0.9"/>
<text x="427.15" y="415.10" font-size="6.0" text-anchor="middle" fill="#0a0a0a">500</text>
<line x1="442.48" y1="407.00" x2="442.48" y2="408.80" stroke="#555" stroke-width="0.9"/>
<text x="442.48" y="415.10" font-size="6.0" text-anchor="middle" fill="#0a0a0a">600</text>
<text x="349.00" y="424.60" font-size="7.4" text-anchor="start" fill="#0a0a0a">site1</text>
<text x="399.80" y="424.90" font-size="7.4" text-anchor="start" fill="#0a0a0a">site2</text>
<line x1="367.30" y1="417.40" x2="367.30" y2="425.80" stroke="#888" stroke-width="0.8" stroke-dasharray="1 0.8"/>
<line x1="365.50" y1="417.40" x2="369.10" y2="417.40" stroke="#777" stroke-width="0.8"/>
<line x1="397.40" y1="417.40" x2="397.40" y2="425.80" stroke="#888" stroke-width="0.8" stroke-dasharray="1 0.8"/>
<line x1="395.60" y1="417.40" x2="399.20" y2="417.40" stroke="#777" stroke-width="0.8"/>
<text x="278.00" y="435.50" font-size="7.6" text-anchor="start" fill="#0a0a0a">site1</text>
<text x="254.00" y="452.70" font-size="7.6" text-anchor="start" fill="#0a0a0a">MFE -25.7 Kcal/mol</text>
<text x="278.00" y="472.40" font-size="7.6" text-anchor="start" fill="#0a0a0a">site2</text>
<text x="254.00" y="488.50" font-size="7.6" text-anchor="start" fill="#0a0a0a">MFE -25.3 Kcal/mol</text>
<rect x="324.0" y="428.6" width="188.6" height="25.8" fill="#fff" stroke="#777" stroke-width="0.8"/>
<line x1="324.00" y1="428.20" x2="324.00" y2="454.80" stroke="#0a0a0a" stroke-width="1.35"/>
<text x="326.00" y="435.60" font-size="6.3" text-anchor="start" fill="#0a0a0a" style="stroke:none">CD1a 5'</text>
<text x="326.00" y="451.20" font-size="6.3" text-anchor="start" fill="#0a0a0a" style="stroke:none">piR</text>
<text x="340.00" y="451.20" font-size="6.3" text-anchor="start" fill="#0a0a0a" style="stroke:none">3'</text>
<text x="351.5" y="436.3" font-size="7.4" font-family="'Liberation Serif',serif" fill="#222" style="stroke:none" textLength="152.0" lengthAdjust="spacingAndGlyphs">GGACAUGGGAGCAUUGGGCAGCACACUGGGAG</text>
<text x="344.2" y="451.7" font-size="7.4" font-family="'Liberation Serif',serif" fill="#222" style="stroke:none" textLength="153.2" lengthAdjust="spacingAndGlyphs">GGCUUAGGAUUGGUGAUCUG--GUG-GUCCCU</text>
<line x1="357.40" y1="438.50" x2="357.40" y2="444.60" stroke="#555" stroke-width="0.85"/>
<line x1="361.90" y1="438.50" x2="361.90" y2="444.60" stroke="#555" stroke-width="0.85"/>
<line x1="366.40" y1="438.50" x2="366.40" y2="444.60" stroke="#555" stroke-width="0.85"/>
<line x1="375.80" y1="438.50" x2="375.80" y2="444.60" stroke="#555" stroke-width="0.85"/>
<line x1="390.80" y1="438.50" x2="390.80" y2="444.60" stroke="#555" stroke-width="0.85"/>
<line x1="395.50" y1="438.50" x2="395.50" y2="444.60" stroke="#555" stroke-width="0.85"/>
<line x1="405.50" y1="438.50" x2="405.50" y2="444.60" stroke="#555" stroke-width="0.85"/>
<line x1="410.40" y1="438.50" x2="410.40" y2="444.60" stroke="#555" stroke-width="0.85"/>
<line x1="415.00" y1="438.50" x2="415.00" y2="444.60" stroke="#555" stroke-width="0.85"/>
<line x1="419.70" y1="438.50" x2="419.70" y2="444.60" stroke="#555" stroke-width="0.85"/>
<line x1="424.70" y1="438.50" x2="424.70" y2="444.60" stroke="#555" stroke-width="0.85"/>
<line x1="429.60" y1="438.50" x2="429.60" y2="444.60" stroke="#555" stroke-width="0.85"/>
<line x1="434.50" y1="438.50" x2="434.50" y2="444.60" stroke="#555" stroke-width="0.85"/>
<line x1="439.30" y1="438.50" x2="439.30" y2="444.60" stroke="#555" stroke-width="0.85"/>
<line x1="454.00" y1="438.50" x2="454.00" y2="444.60" stroke="#555" stroke-width="0.85"/>
<line x1="458.60" y1="438.50" x2="458.60" y2="444.60" stroke="#555" stroke-width="0.85"/>
<line x1="463.30" y1="438.50" x2="463.30" y2="444.60" stroke="#555" stroke-width="0.85"/>
<line x1="472.40" y1="438.50" x2="472.40" y2="444.60" stroke="#555" stroke-width="0.85"/>
<line x1="481.60" y1="438.50" x2="481.60" y2="444.60" stroke="#555" stroke-width="0.85"/>
<line x1="486.20" y1="438.50" x2="486.20" y2="444.60" stroke="#555" stroke-width="0.85"/>
<line x1="490.80" y1="438.50" x2="490.80" y2="444.60" stroke="#555" stroke-width="0.85"/>
<line x1="495.40" y1="438.50" x2="495.40" y2="444.60" stroke="#555" stroke-width="0.85"/>
<text x="505.40" y="435.60" font-size="6.3" text-anchor="start" fill="#0a0a0a" style="stroke:none">3'</text>
<rect x="324.0" y="462.2" width="188.6" height="27.8" fill="#fff" stroke="#777" stroke-width="0.8"/>
<line x1="324.00" y1="461.80" x2="324.00" y2="490.40" stroke="#0a0a0a" stroke-width="1.35"/>
<text x="326.00" y="469.40" font-size="6.3" text-anchor="start" fill="#0a0a0a" style="stroke:none">CD1a 5'</text>
<text x="326.00" y="486.30" font-size="6.3" text-anchor="start" fill="#0a0a0a" style="stroke:none">piR</text>
<text x="339.00" y="486.30" font-size="6.3" text-anchor="start" fill="#0a0a0a" style="stroke:none">3'</text>
<text x="349.2" y="470.1" font-size="7.4" font-family="'Liberation Serif',serif" fill="#222" style="stroke:none" textLength="139.0" lengthAdjust="spacingAndGlyphs">AGAGUCAGAACCAGAGGGAAAUGAGAGAC</text>
<text x="344.2" y="486.8" font-size="7.4" font-family="'Liberation Serif',serif" fill="#222" style="stroke:none" textLength="139.0" lengthAdjust="spacingAndGlyphs">GGCUUAGGAUUGGUGAUCUGGUGGUCCCU</text>
<line x1="357.40" y1="473.30" x2="357.40" y2="479.80" stroke="#555" stroke-width="0.85"/>
<line x1="361.90" y1="473.30" x2="361.90" y2="479.80" stroke="#555" stroke-width="0.85"/>
<line x1="366.40" y1="473.30" x2="366.40" y2="479.80" stroke="#555" stroke-width="0.85"/>
<line x1="371.00" y1="473.30" x2="371.00" y2="479.80" stroke="#555" stroke-width="0.85"/>
<line x1="375.80" y1="473.30" x2="375.80" y2="479.80" stroke="#555" stroke-width="0.85"/>
<line x1="390.60" y1="473.30" x2="390.60" y2="479.80" stroke="#555" stroke-width="0.85"/>
<line x1="395.50" y1="473.30" x2="395.50" y2="479.80" stroke="#555" stroke-width="0.85"/>
<line x1="400.40" y1="473.30" x2="400.40" y2="479.80" stroke="#555" stroke-width="0.85"/>
<line x1="405.00" y1="473.30" x2="405.00" y2="479.80" stroke="#555" stroke-width="0.85"/>
<line x1="409.80" y1="473.30" x2="409.80" y2="479.80" stroke="#555" stroke-width="0.85"/>
<line x1="424.50" y1="473.30" x2="424.50" y2="479.80" stroke="#555" stroke-width="0.85"/>
<line x1="429.30" y1="473.30" x2="429.30" y2="479.80" stroke="#555" stroke-width="0.85"/>
<line x1="434.20" y1="473.30" x2="434.20" y2="479.80" stroke="#555" stroke-width="0.85"/>
<line x1="448.60" y1="473.30" x2="448.60" y2="479.80" stroke="#555" stroke-width="0.85"/>
<line x1="453.40" y1="473.30" x2="453.40" y2="479.80" stroke="#555" stroke-width="0.85"/>
<line x1="462.80" y1="473.30" x2="462.80" y2="479.80" stroke="#555" stroke-width="0.85"/>
<line x1="467.40" y1="473.30" x2="467.40" y2="479.80" stroke="#555" stroke-width="0.85"/>
<line x1="477.00" y1="473.30" x2="477.00" y2="479.80" stroke="#555" stroke-width="0.85"/>
<line x1="481.60" y1="473.30" x2="481.60" y2="479.80" stroke="#555" stroke-width="0.85"/>
<text x="492.60" y="469.40" font-size="6.3" text-anchor="start" fill="#0a0a0a" style="stroke:none">3'</text>
<text x="487.60" y="486.30" font-size="6.3" text-anchor="start" fill="#0a0a0a" style="stroke:none">5'</text>
</svg>
</body></html>
